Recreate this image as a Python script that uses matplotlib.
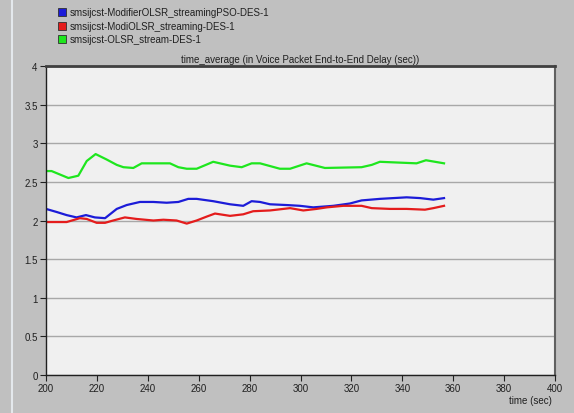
import matplotlib
matplotlib.use("Agg")
import matplotlib.pyplot as plt
from matplotlib.lines import Line2D
from matplotlib.patches import Rectangle

series_names = [
    "smsijcst-ModifierOLSR_streamingPSO-DES-1",
    "smsijcst-ModiOLSR_streaming-DES-1",
    "smsijcst-OLSR_stream-DES-1",
]
series_colors = ["#1c1cd8", "#e41c1c", "#1ee61e"]

blue_t = [200, 204.2, 208.1, 212, 215.7, 219.2, 223.2, 227.8, 231.7, 236.9, 242.2, 247.4, 252,
          255.9, 259.2, 265.7, 272.3, 277.5, 280.8, 284.1, 288, 294.6, 299.8, 305, 312.9,
          319.4, 324, 331.2, 336.5, 341.7, 347, 352.2, 356.4]
blue_v = [2.15, 2.11, 2.07, 2.04, 2.07, 2.04, 2.03, 2.15, 2.20, 2.24, 2.24, 2.23, 2.24,
          2.28, 2.28, 2.25, 2.21, 2.19, 2.25, 2.24, 2.21, 2.20, 2.19, 2.17, 2.19,
          2.22, 2.26, 2.28, 2.29, 2.30, 2.29, 2.27, 2.29]

red_t = [200, 208.1, 213.3, 216, 219.9, 223.2, 226.4, 231, 235.6, 242.2, 246.1, 251.3, 255.3,
         259.2, 263.1, 266.4, 272.3, 277.5, 281.4, 288, 295.9, 301.1, 306.3, 310.3, 316.8,
         324, 328, 335.2, 341.7, 348.9, 352.2, 356.4]
red_v = [1.98, 1.98, 2.03, 2.02, 1.97, 1.97, 2.00, 2.04, 2.02, 2.00, 2.01, 2.00, 1.96,
         2.00, 2.05, 2.09, 2.06, 2.08, 2.12, 2.13, 2.16, 2.13, 2.15, 2.17, 2.19,
         2.19, 2.16, 2.15, 2.15, 2.14, 2.16, 2.19]

green_t = [200, 202.2, 208.8, 212.7, 216, 219.5, 223.8, 227.8, 230.4, 234.3, 237.6, 248.7,
           252, 255.3, 259.2, 265.7, 272.3, 276.9, 280.8, 284.1, 291.9, 295.9, 302.4, 309.6,
           324, 328, 331.2, 345.6, 349.3, 356.4]
green_v = [2.64, 2.64, 2.55, 2.58, 2.77, 2.86, 2.79, 2.72, 2.69, 2.68, 2.74, 2.74,
           2.69, 2.67, 2.67, 2.76, 2.71, 2.69, 2.74, 2.74, 2.67, 2.67, 2.74, 2.68,
           2.69, 2.72, 2.76, 2.74, 2.78, 2.74]

x_ticks = [200, 220, 240, 260, 280, 300, 320, 340, 360, 380, 400]
y_ticks = [0, 0.5, 1, 1.5, 2, 2.5, 3, 3.5, 4]
y_tick_labels = ["0", "0.5", "1", "1.5", "2", "2.5", "3", "3.5", "4"]
title = "time_average (in Voice Packet End-to-End Delay (sec))"
x_label = "time (sec)"

plt.rcParams['font.family'] = ['Liberation Sans', 'DejaVu Sans']

fig = plt.figure(figsize=(5.74, 4.14), dpi=100, facecolor="#c0c0c0")
ax = fig.add_axes([46/574, 1-376/414, (555-46)/574, (376-67)/414])
ax.set_facecolor("#f0f0f0")

for t, v, c in zip([blue_t, red_t, green_t], [blue_v, red_v, green_v], series_colors):
    ax.plot(t, v, color=c, lw=1.6, solid_joinstyle="round")

ax.set_xlim(200, 400)
ax.set_ylim(0, 4)
ax.set_xticks(x_ticks)
ax.set_xticklabels([str(x) for x in x_ticks])
ax.set_yticks(y_ticks)
ax.set_yticklabels(y_tick_labels)
ax.yaxis.grid(True, color="#a8a8a8", lw=1)
ax.set_axisbelow(True)
ax.tick_params(axis="both", labelsize=7, length=4, width=0.8, color="#202020",
               labelcolor="#202020", pad=2)
for s in ["left", "bottom"]:
    ax.spines[s].set_color("#202020")
    ax.spines[s].set_linewidth(1.0)
ax.spines["top"].set_color("#404040")
ax.spines["top"].set_linewidth(2.0)
ax.spines["right"].set_color("#606060")
ax.spines["right"].set_linewidth(1.5)

fig.text(300/574, 1-60/414, title, ha="center", va="center", fontsize=7, color="#202020")
fig.text(552/574, 1-401/414, x_label, ha="right", va="center", fontsize=7, color="#202020")

# legend
for i, (name, c) in enumerate(zip(series_names, series_colors)):
    yc = 13 + i * 13.5
    fig.add_artist(Rectangle((58/574, 1-(yc+4)/414), 8/574, 8/414, transform=fig.transFigure,
                             facecolor=c, edgecolor="#303030", lw=0.6))
    fig.text(70/574, 1-yc/414, name, ha="left", va="center", fontsize=7, color="#202020")

# window edge strip
fig.add_artist(Line2D([12/574, 12/574], [0, 1], transform=fig.transFigure, color="#e4e8ec", lw=1.5))

fig.savefig("out.png", dpi=100, facecolor=fig.get_facecolor())
